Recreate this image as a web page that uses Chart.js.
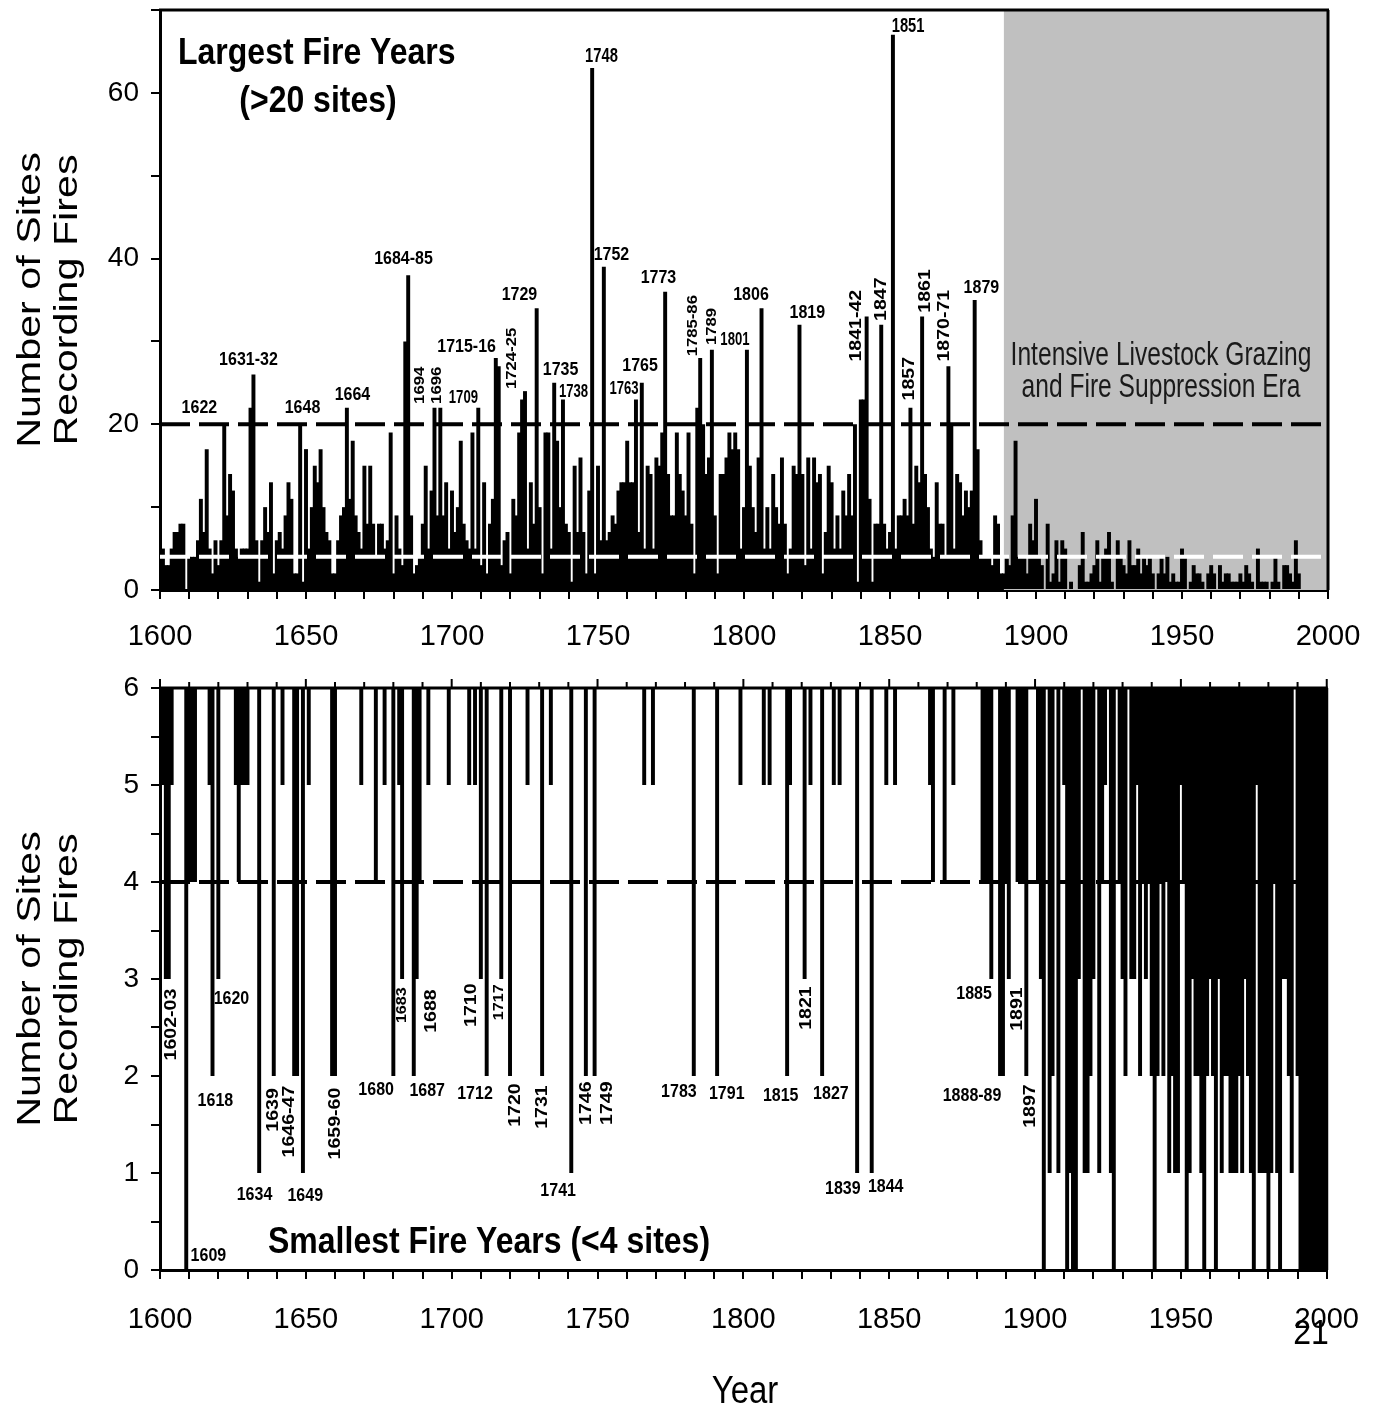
<!DOCTYPE html>
<html><head><meta charset="utf-8">
<script src="https://cdn.jsdelivr.net/npm/chart.js@4.4.1/dist/chart.umd.min.js"></script>
<style>
html,body{margin:0;padding:0;background:#fff;}
#wrap{position:relative;width:1383px;height:1411px;overflow:hidden;}
#c1{position:absolute;left:0;top:0;}
#c2{position:absolute;left:0;top:660px;}
</style></head><body>
<div id="wrap"><canvas id="c1" width="1383" height="660"></canvas><canvas id="c2" width="1383" height="751"></canvas></div>
<script>
// ---------------- DATA ----------------
const firstYear = 1600;
const lastYear = 2000;
const years = [];
for (let y = firstYear; y <= lastYear; y++) years.push(y);

// number of sites recording fire, per year
const sites1600s = [
10,5,3,3,5,7,7,8,8,0,
4,4,4,6,11,7,17,5,2,6,
3,6,20,9,14,12,5,4,5,5,
5,22,26,6,1,6,10,7,13,2,
6,7,5,9,13,11,2,2,20,1,
17,5,10,15,13,17,10,7,6,2,
2,6,9,10,22,11,18,9,7,5,
15,8,15,8,4,8,8,5,6,19,
2,9,5,3,30,38,9,2,3,4,
8,15,5,12,22,9,22,9,13,5];
const sites1700s = [
12,7,10,18,8,6,5,19,5,22,
3,13,2,8,11,28,27,3,6,7,
2,11,9,19,23,24,5,13,8,34,
10,2,19,19,5,25,18,10,23,8,
7,1,15,7,16,7,2,12,63,2,
15,6,39,6,7,9,8,12,13,13,
18,13,13,23,7,25,5,15,14,5,
16,15,19,36,14,9,9,19,14,12,
9,19,8,2,22,28,20,14,16,29,
9,2,14,14,16,19,17,19,17,5];
const sites1800s = [
10,29,15,10,7,16,34,5,10,5,
14,10,8,16,8,2,5,15,14,32,
14,3,16,5,16,13,14,2,7,15,
13,5,9,5,12,9,14,9,20,1,
23,23,33,11,1,8,8,32,8,5,
7,67,5,9,9,11,9,22,8,15,
13,33,14,10,5,4,13,8,8,4,
27,20,5,14,13,9,12,10,12,35,
17,6,4,4,4,3,9,8,2,2,
4,3,9,18,4,4,4,2,8,6];
const sites1900s = [
11,4,3,0,8,1,2,6,1,6,
5,0,1,0,0,3,7,1,1,2,
3,6,1,4,5,7,1,0,6,4,
3,2,6,3,3,5,2,4,3,4,
2,0,2,4,2,4,1,2,1,1,
5,4,0,1,3,2,2,1,0,2,
3,2,0,3,1,2,2,1,1,1,
2,1,3,2,1,0,5,1,1,1,
0,1,4,1,0,3,3,2,1,6,
2,0,0,0,0,0,0,0,0,0];
const sites2000 = [0];
const sites = [].concat(sites1600s, sites1700s, sites1800s, sites1900s, sites2000);

const largeThreshold = 20;
const smallThreshold = 4;
const bottomMax = 6;
const grazingStartYear = 1889;

// labelled years: [text, anchor year, anchor value, vertical]
const topLabels = [
["1622",1613.5,22,0],["1631-32",1630.3,27.8,0],["1648",1648.8,22,0],["1664",1665.9,23.6,0],
["1684-85",1683.4,40,0],["1694",1689,24.7,1],["1696",1694.9,24.7,1],["1709",1703.9,23.1,0],
["1715-16",1705,29.3,0],["1724-25",1720.5,27.95,1],["1729",1723.1,35.6,0],["1735",1737.2,26.5,0],
["1738",1741.6,23.9,0],["1748",1751.2,64.4,0],["1752",1754.6,40.4,0],["1763",1758.9,24.2,0],
["1765",1764.4,27,0],["1773",1770.7,37.7,0],["1785-86",1782.4,31.9,1],["1789",1789,31.8,1],
["1801",1796.9,30.2,0],["1806",1802.4,35.6,0],["1819",1821.7,33.4,0],["1841-42",1838.5,31.9,1],
["1847",1847.1,35.1,1],["1851",1856.2,68,0],["1857",1856.5,25.5,1],["1861",1862,36.1,1],
["1870-71",1868.7,31.9,1],["1879",1881.3,36.4,0]];
const bottomLabels = [
["1602-03",1603.8,2.53,1],["1609",1616.6,0.15,0],["1618",1619,1.74,0],["1620",1624.5,2.79,0],
["1634",1632.4,0.77,0],["1639",1638.9,1.65,1],["1646-47",1644.5,1.53,1],["1649",1649.8,0.76,0],
["1659-60",1660.1,1.51,1],["1680",1674.1,1.86,0],["1683",1683,2.73,1],["1687",1691.6,1.85,0],
["1688",1693,2.67,1],["1710",1706.7,2.73,1],["1712",1708,1.81,0],["1717",1716.1,2.76,1],
["1720",1721.7,1.7,1],["1731",1731,1.68,1],["1741",1736.5,0.81,0],["1746",1746,1.72,1],
["1749",1753.3,1.72,1],["1783",1777.9,1.84,0],["1791",1794.3,1.81,0],["1815",1812.8,1.79,0],
["1821",1821.7,2.7,1],["1827",1830,1.81,0],["1839",1834.1,0.84,0],["1844",1848.8,0.86,0],
["1885",1879.1,2.85,0],["1888-89",1878.4,1.79,0],["1891",1894,2.69,1],["1897",1898.4,1.69,1]];
const smallTopLabels = ["1709","1738","1763","1801"];
const narrowTopLabels = ["1748","1851"];
const smallVertLabels = ["1694","1696","1724-25","1785-86","1789","1683","1717"];

// ---------------- HELPERS ----------------
const SANS = "'Liberation Sans', Arial, Helvetica, sans-serif";
function txt(ctx, s, x, y, o) {
  ctx.save();
  ctx.translate(x, y);
  ctx.scale(o.sx || 1, o.sy || 1);
  if (o.rot) ctx.rotate(-Math.PI / 2);
  ctx.font = (o.bold ? 'bold ' : '') + o.size + 'px ' + SANS;
  ctx.fillStyle = o.color || '#000';
  ctx.textAlign = o.align || 'center';
  ctx.textBaseline = o.base || 'middle';
  ctx.fillText(s, 0, 0);
  ctx.restore();
}
function xpix(chart, year) { return chart.scales.x.getPixelForValue(year - firstYear); }
function ypix(chart, v) { return chart.scales.y.getPixelForValue(v); }
function dashed(chart, value, color) {
  const ctx = chart.ctx, a = chart.chartArea, y = ypix(chart, value);
  ctx.save();
  ctx.strokeStyle = color; ctx.lineWidth = 4; ctx.setLineDash([30, 9]);
  ctx.beginPath(); ctx.moveTo(a.left, y); ctx.lineTo(a.right, y); ctx.stroke();
  ctx.restore();
}
function frame(chart, topTicks) {
  const ctx = chart.ctx, a = chart.chartArea;
  ctx.save();
  ctx.strokeStyle = '#000'; ctx.lineWidth = 3;
  ctx.beginPath(); ctx.moveTo(a.left - 1, a.top); ctx.lineTo(a.right + 1, a.top); ctx.stroke();
  ctx.beginPath(); ctx.moveTo(a.right, a.top); ctx.lineTo(a.right, a.bottom); ctx.stroke();
  if (topTicks) {
    ctx.lineWidth = 2;
    years.forEach(yr => {
      if (yr % 10 === 0) {
        const x = xpix(chart, yr);
        ctx.beginPath(); ctx.moveTo(x, a.top); ctx.lineTo(x, a.top - (yr % 50 === 0 ? 9 : 6)); ctx.stroke();
      }
    });
  }
  ctx.restore();
}
const gridColor = ctx => (years[ctx.index] % 10 === 0 ? '#000' : 'rgba(0,0,0,0)');
const gridWidth = ctx => (years[ctx.index] % 10 === 0 ? 2 : 0);
function xScale(height, pad) {
  return {
    type: 'category', offset: false,
    grid: { offset: false, drawOnChartArea: false, drawTicks: true, tickLength: 9, color: gridColor, lineWidth: gridWidth },
    border: { color: '#000', width: 3 },
    ticks: { autoSkip: false, maxRotation: 0, minRotation: 0, padding: pad, color: '#000',
      font: { family: SANS, size: 29 },
      callback: (v, i) => (years[i] % 50 === 0 ? String(years[i]) : '') },
    afterFit: s => { s.height = height; }
  };
}
function yScale(max, step, labelEvery) {
  return {
    min: 0, max: max,
    grid: { drawOnChartArea: false, drawTicks: true, tickLength: 9, color: '#000', lineWidth: 2 },
    border: { color: '#000', width: 3 },
    ticks: { stepSize: step, padding: 12, color: '#000', font: { family: SANS, size: 28 },
      callback: v => (Math.abs(v / labelEvery - Math.round(v / labelEvery)) < 1e-6 ? String(v) : '') },
    afterFit: s => { s.width = 160; s.paddingTop = 0; s.paddingBottom = 0; }
  };
}
function yTitle(chart) {
  const a = chart.chartArea, cy = (a.top + a.bottom) / 2;
  txt(chart.ctx, 'Number of Sites', 31, cy, { size: 33, rot: true, sy: 1.25 });
  txt(chart.ctx, 'Recording Fires', 68, cy, { size: 33, rot: true, sy: 1.25 });
}

// ---------------- TOP CHART ----------------
const topPlugin = {
  id: 'topDecor',
  beforeDatasetsDraw(chart) {
    const ctx = chart.ctx, a = chart.chartArea;
    const x0 = xpix(chart, grazingStartYear);
    ctx.save(); ctx.fillStyle = '#c0c0c0';
    ctx.fillRect(x0, a.top, a.right - x0, a.bottom - a.top);
    ctx.restore();
  },
  afterDatasetsDraw(chart) {
    dashed(chart, smallThreshold, '#fff');
    dashed(chart, largeThreshold, '#000');
    const ctx = chart.ctx;
    txt(ctx, 'Largest Fire Years', 178, 64, { size: 32, bold: true, sy: 1.17, align: 'left', base: 'alphabetic' });
    txt(ctx, '(>20 sites)', 318, 112, { size: 32, bold: true, sy: 1.17, base: 'alphabetic' });
    txt(ctx, 'Intensive Livestock Grazing', 1161, 365, { size: 30, sx: 0.82, sy: 1.12, base: 'alphabetic', color: '#1a1a1a' });
    txt(ctx, 'and Fire Suppression Era', 1161, 397, { size: 30, sx: 0.82, sy: 1.12, base: 'alphabetic', color: '#1a1a1a' });
    topLabels.forEach(l => {
      const x = xpix(chart, l[1]), y = ypix(chart, l[2]);
      if (l[3]) {
        const size = smallVertLabels.includes(l[0]) ? 14.5 : 17;
        txt(ctx, l[0], x, y, { size: size, bold: true, rot: true, sy: 1.15 });
      } else if (narrowTopLabels.includes(l[0])) {
        txt(ctx, l[0], x, y, { size: 18, bold: true, sx: 0.82, sy: 1.15 });
      } else if (smallTopLabels.includes(l[0])) {
        txt(ctx, l[0], x, y, { size: 16, bold: true, sx: 0.82, sy: 1.1 });
      } else {
        txt(ctx, l[0], x, y, { size: 16, bold: true, sy: 1.15 });
      }
    });
  },
  afterDraw(chart) { frame(chart, false); yTitle(chart); }
};

new Chart(document.getElementById('c1'), {
  type: 'bar',
  data: { labels: years, datasets: [{ data: sites, backgroundColor: '#000', borderWidth: 0,
    barPercentage: 1.35, categoryPercentage: 1 }] },
  options: {
    animation: false, responsive: false, devicePixelRatio: 1, events: [],
    layout: { padding: { left: 0, right: 55, top: 10, bottom: 0 } },
    plugins: { legend: { display: false }, tooltip: { enabled: false }, title: { display: false } },
    scales: { x: xScale(70, 21), y: yScale(70, 10, 20) }
  },
  plugins: [topPlugin]
});

// ---------------- BOTTOM CHART ----------------
const lowSpans = sites.map(v => (v < bottomMax ? [v, bottomMax] : null));
const bottomPlugin = {
  id: 'bottomDecor',
  afterDatasetsDraw(chart) {
    dashed(chart, smallThreshold, '#000');
    const ctx = chart.ctx;
    txt(ctx, 'Smallest Fire Years (<4 sites)', 268, 593, { size: 32, bold: true, sy: 1.17, align: 'left', base: 'alphabetic' });
    bottomLabels.forEach(l => {
      const x = xpix(chart, l[1]), y = ypix(chart, l[2]);
      if (l[3]) {
        const size = smallVertLabels.includes(l[0]) ? 14 : 17;
        txt(ctx, l[0], x, y, { size: size, bold: true, rot: true, sy: 1.15 });
      } else {
        txt(ctx, l[0], x, y, { size: 16, bold: true, sy: 1.15 });
      }
    });
  },
  afterDraw(chart) {
    frame(chart, true); yTitle(chart);
    const ctx = chart.ctx;
    txt(ctx, 'Year', 745, 732, { size: 33, sy: 1.2 });
    txt(ctx, '21', 1311, 674, { size: 32, sy: 1.1 });
  }
};

new Chart(document.getElementById('c2'), {
  type: 'bar',
  data: { labels: years, datasets: [{ data: lowSpans, backgroundColor: '#000', borderWidth: 0,
    barPercentage: 1.35, categoryPercentage: 1 }] },
  options: {
    animation: false, responsive: false, devicePixelRatio: 1, events: [],
    layout: { padding: { left: 0, right: 55, top: 28, bottom: 0 } },
    plugins: { legend: { display: false }, tooltip: { enabled: false }, title: { display: false } },
    scales: { x: xScale(141, 24), y: yScale(6, 0.5, 1) }
  },
  plugins: [bottomPlugin]
});
</script>
</body></html>
